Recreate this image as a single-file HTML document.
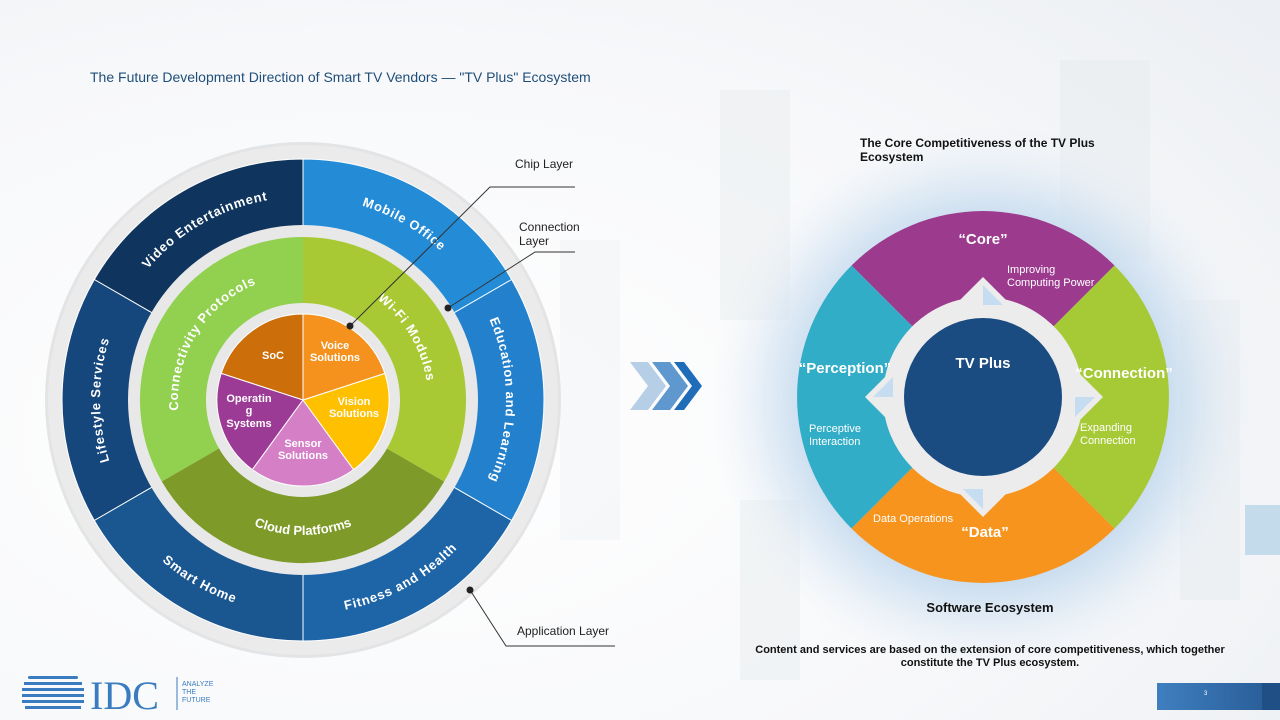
<!DOCTYPE html>
<html><head><meta charset="utf-8"><style>
html,body{margin:0;padding:0;width:1280px;height:720px;overflow:hidden;background:#fff;}
svg{display:block;font-family:"Liberation Sans",sans-serif;}
</style></head><body>
<svg width="1280" height="720" viewBox="0 0 1280 720">
<defs>
<radialGradient id="bg" cx="0.3" cy="0.6" r="0.9">
<stop offset="0" stop-color="#ffffff"/><stop offset="0.6" stop-color="#f7f8fa"/><stop offset="1" stop-color="#eceff3"/>
</radialGradient>
<radialGradient id="glow" cx="0.5" cy="0.5" r="0.5">
<stop offset="0.6" stop-color="#b3cfe9" stop-opacity="0.85"/><stop offset="0.8" stop-color="#d3e3f2" stop-opacity="0.6"/><stop offset="1" stop-color="#eef3f8" stop-opacity="0"/>
</radialGradient>
<linearGradient id="box" x1="0" x2="1"><stop offset="0" stop-color="#3f7fc0"/><stop offset="1" stop-color="#2a5f9a"/></linearGradient>
<path id="cwB" d="M303,603 A203,203 0 1 1 303,197 A203,203 0 1 1 303,603"/>
<path id="ccwB" d="M303,186 A214,214 0 1 0 303,614 A214,214 0 1 0 303,186"/>
<path id="cwG" d="M303,525 A125,125 0 1 1 303,275 A125,125 0 1 1 303,525"/>
<path id="ccwG" d="M303,265 A135,135 0 1 0 303,535 A135,135 0 1 0 303,265"/>
</defs>
<rect width="1280" height="720" fill="url(#bg)"/>
<g fill="#e6eaee" opacity="0.45">
<rect x="720" y="90" width="70" height="230"/><rect x="1060" y="60" width="90" height="200"/>
<rect x="740" y="500" width="60" height="180"/><rect x="1180" y="300" width="60" height="300"/>
<rect x="560" y="240" width="60" height="300" opacity="0.5"/>
</g>
<rect x="1245" y="505" width="35" height="50" fill="#7fb6dc" opacity="0.4"/>

<text x="90" y="82" font-size="14" fill="#1f4e79">The Future Development Direction of Smart TV Vendors — "TV Plus" Ecosystem</text>

<circle cx="303" cy="400" r="258" fill="#e3e4e6"/>
<circle cx="303" cy="400" r="255" fill="#ebebeb"/>
<g stroke="#fff" stroke-width="1">
<path d="M303,400 L511.7,279.5 A241,241 0 0 0 303,159 Z" fill="#248bd6"/>
<path d="M303,400 L303,159 A241,241 0 0 0 94.3,279.5 Z" fill="#0f355f"/>
<path d="M303,400 L94.3,279.5 A241,241 0 0 0 94.3,520.5 Z" fill="#16477c"/>
<path d="M303,400 L94.3,520.5 A241,241 0 0 0 303,641 Z" fill="#1a5690"/>
<path d="M303,400 L303,641 A241,241 0 0 0 511.7,520.5 Z" fill="#1e65a8"/>
<path d="M303,400 L511.7,520.5 A241,241 0 0 0 511.7,279.5 Z" fill="#2280cc"/>
</g>
<circle cx="303" cy="400" r="175" fill="#e8e8e8"/>
<path d="M303,400 L303,237 A163,163 0 0 0 161.8,481.5 Z" fill="#92d050"/>
<path d="M303,400 L161.8,481.5 A163,163 0 0 0 444.2,481.5 Z" fill="#7e9a29"/>
<path d="M303,400 L444.2,481.5 A163,163 0 0 0 303,237 Z" fill="#a8c934"/>
<circle cx="303" cy="400" r="97" fill="#e8e8e8"/>
<g stroke="#fff" stroke-width="1">
<path d="M303,400 L303,314 A86,86 0 0 0 221.2,373.4 Z" fill="#cc6f0b"/>
<path d="M303,400 L221.2,373.4 A86,86 0 0 0 252.4,469.6 Z" fill="#9c3b96"/>
<path d="M303,400 L252.4,469.6 A86,86 0 0 0 353.6,469.6 Z" fill="#d47fc6"/>
<path d="M303,400 L353.6,469.6 A86,86 0 0 0 384.8,373.4 Z" fill="#ffc000"/>
<path d="M303,400 L384.8,373.4 A86,86 0 0 0 303,314 Z" fill="#f5921e"/>
</g>
<g fill="#fff" font-weight="bold" font-size="13" letter-spacing="0.8" text-anchor="middle">
<text><textPath href="#cwB" startOffset="41.7%">Video Entertainment</textPath></text>
<text><textPath href="#cwB" startOffset="58.3%">Mobile Office</textPath></text>
<text><textPath href="#cwB" startOffset="75%">Education and Learning</textPath></text>
<text><textPath href="#cwB" startOffset="25%">Lifestyle Services</textPath></text>
<text><textPath href="#ccwB" startOffset="41.7%">Smart Home</textPath></text>
<text><textPath href="#ccwB" startOffset="58%">Fitness and Health</textPath></text>
<text><textPath href="#cwG" startOffset="33.8%">Connectivity Protocols</textPath></text>
<text><textPath href="#cwG" startOffset="66.4%">Wi-Fi Modules</textPath></text>
<text letter-spacing="0"><textPath href="#ccwG" startOffset="50%">Cloud Platforms</textPath></text>
</g>
<g fill="#fff" font-weight="bold" font-size="11" text-anchor="middle">
<text x="273" y="359">SoC</text>
<text x="335" y="349">Voice</text><text x="335" y="361">Solutions</text>
<text x="354" y="405">Vision</text><text x="354" y="417">Solutions</text>
<text x="303" y="447">Sensor</text><text x="303" y="459">Solutions</text>
<text x="249" y="402">Operatin</text><text x="249" y="414">g</text><text x="249" y="427">Systems</text>
</g>
<g stroke="#333" stroke-width="1" fill="none">
<polyline points="575,187 490,187 350,326"/>
<polyline points="575,252 535,252 448,308"/>
<polyline points="470,590 506,646 615,646"/>
</g>
<circle cx="350" cy="326" r="3.5" fill="#222"/>
<circle cx="448" cy="308" r="3.5" fill="#222"/>
<circle cx="470" cy="590" r="3.5" fill="#222"/>
<g font-size="12" fill="#222">
<text x="515" y="168">Chip Layer</text>
<text x="519" y="231">Connection</text><text x="519" y="245">Layer</text>
<text x="517" y="635">Application Layer</text>
</g>

<g>
<polygon points="630,362 648,362 666,386 648,410 630,410 648,386" fill="#b7cfe6"/>
<polygon points="652,362 670,362 688,386 670,410 652,410 670,386" fill="#5e98cf"/>
<polygon points="674,362 684,362 702,386 684,410 674,410 692,386" fill="#1f6cb8"/>
</g>

<circle cx="985" cy="400" r="275" fill="url(#glow)"/>
<path d="M983,397 L1114.5,265.5 A186,186 0 0 0 851.5,265.5 Z" fill="#9c3a8e"/>
<path d="M983,397 L851.5,265.5 A186,186 0 0 0 851.5,528.5 Z" fill="#32adc7"/>
<path d="M983,397 L851.5,528.5 A186,186 0 0 0 1114.5,528.5 Z" fill="#f7941d"/>
<path d="M983,397 L1114.5,528.5 A186,186 0 0 0 1114.5,265.5 Z" fill="#a6c936"/>
<g fill="#ececec">
<circle cx="983" cy="397" r="100"/>
<polygon points="983,277 1023,317 943,317"/>
<polygon points="983,517 1023,477 943,477"/>
<polygon points="865,397 905,357 905,437"/>
<polygon points="1103,397 1063,357 1063,437"/>
</g>
<g fill="#c6dcf1">
<polygon points="983,285 1003,305 983,305"/>
<polygon points="983,509 963,489 983,489"/>
<polygon points="873,397 893,377 893,397"/>
<polygon points="1095,397 1075,417 1075,397"/>
</g>
<circle cx="983" cy="397" r="79" fill="#1a4b81"/>
<g fill="#fff" font-weight="bold" text-anchor="middle" font-size="15">
<text x="983" y="368">TV Plus</text>
<text x="983" y="244">“Core”</text>
<text x="845" y="373">“Perception”</text>
<text x="1124" y="378">“Connection”</text>
<text x="985" y="537">“Data”</text>
</g>
<g fill="#fff" font-size="11">
<text x="1007" y="273">Improving</text><text x="1007" y="286">Computing Power</text>
<text x="809" y="432">Perceptive</text><text x="809" y="445">Interaction</text>
<text x="1080" y="431">Expanding</text><text x="1080" y="444">Connection</text>
<text x="873" y="522">Data Operations</text>
</g>
<g font-weight="bold" fill="#111">
<text x="860" y="147" font-size="12">The Core Competitiveness of the TV Plus</text>
<text x="860" y="161" font-size="12">Ecosystem</text>
<text x="990" y="612" font-size="13" text-anchor="middle">Software Ecosystem</text>
<text x="990" y="653" font-size="11" text-anchor="middle">Content and services are based on the extension of core competitiveness, which together</text>
<text x="990" y="666" font-size="11" text-anchor="middle">constitute the TV Plus ecosystem.</text>
</g>

<g fill="#3a7cc0">
<rect x="28" y="676" width="50" height="3" rx="1.5"/><rect x="24" y="682" width="58" height="3"/>
<rect x="22" y="688" width="62" height="3"/><rect x="22" y="694" width="62" height="3"/>
<rect x="22" y="700" width="62" height="3"/><rect x="25" y="706" width="56" height="3"/>
</g>
<text x="90" y="709" font-family="Liberation Serif,serif" font-size="40" fill="#3a7cc0">IDC</text>
<line x1="177" y1="677" x2="177" y2="710" stroke="#3a7cc0" stroke-width="1"/>
<g font-size="7" fill="#3a7cc0"><text x="182" y="686">ANALYZE</text><text x="182" y="694">THE</text><text x="182" y="702">FUTURE</text></g>
<rect x="1157" y="683" width="105" height="27" fill="url(#box)"/>
<rect x="1262" y="683" width="18" height="27" fill="#1f4f84"/>
<text x="1204" y="695" font-size="6" fill="#fff">3</text>
</svg>
</body></html>
